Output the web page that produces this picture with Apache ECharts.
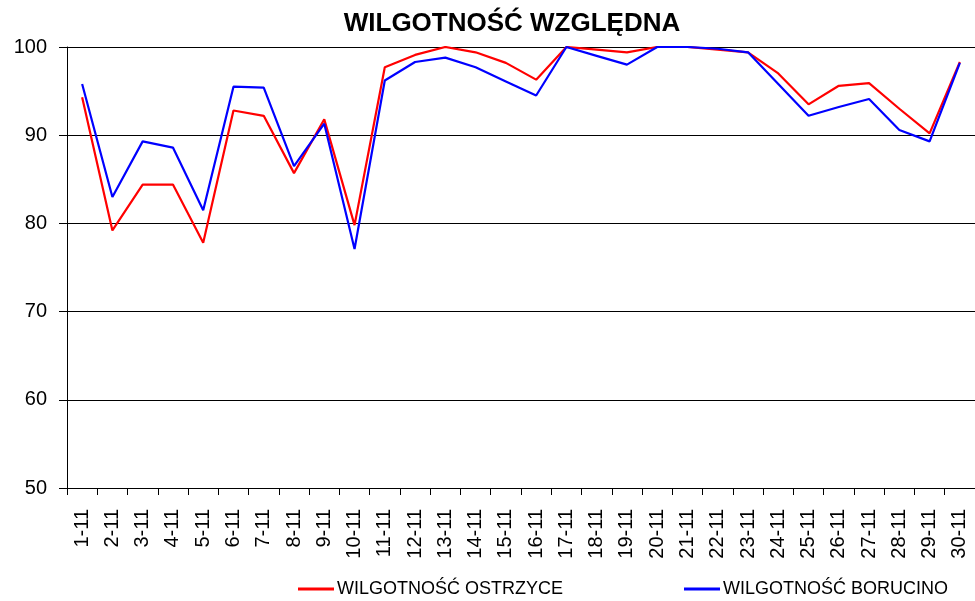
<!DOCTYPE html>
<html>
<head>
<meta charset="utf-8">
<script src="https://cdn.jsdelivr.net/npm/echarts@6/dist/echarts.min.js"></script>
<style>
  html, body { margin: 0; padding: 0; background: #fff; }
  #chart { width: 975px; height: 601px; }
</style>
</head>
<body>
<div id="chart"></div>
<script>
// dni listopada
const days = ['1-11','2-11','3-11','4-11','5-11','6-11','7-11','8-11','9-11','10-11',
  '11-11','12-11','13-11','14-11','15-11','16-11','17-11','18-11','19-11','20-11',
  '21-11','22-11','23-11','24-11','25-11','26-11','27-11','28-11','29-11','30-11']
const ostrzyce = [94.3, 79.2, 84.4, 84.4, 77.8, 92.8, 92.2, 85.7, 91.8, 79.8,
  97.7, 99.1, 100, 99.4, 98.2, 96.3, 100, 99.7, 99.4, 100,
  100, 99.7, 99.4, 97.0, 93.5, 95.6, 95.9, 93.0, 90.2, 98.3]
const borucino = [95.8, 83.0, 89.3, 88.6, 81.5, 95.5, 95.4, 86.5, 91.3, 77.1,
  96.2, 98.3, 98.8, 97.7, 96.1, 94.5, 100, 99.0, 98.0, 100,
  100, 99.8, 99.4, 95.8, 92.2, 93.2, 94.1, 90.6, 89.3, 98.2]
const yTicks = [50, 60, 70, 80, 90, 100]

const font = 'Arial, "Liberation Sans", sans-serif'
const chart = echarts.init(document.getElementById('chart'))
chart.setOption({
  animation: false,
  title: {
    text: 'WILGOTNOŚĆ WZGLĘDNA',
    left: 507,
    textAlign: 'center',
    top: 6,
    textStyle: { fontFamily: font, fontSize: 26, fontWeight: 'bold', color: '#000' }
  },
  legend: {
    left: 293,
    top: 575,
    icon: 'rect',
    itemWidth: 36,
    itemHeight: 3,
    itemGap: 121,
    textStyle: { fontFamily: font, fontSize: 18, color: '#000', padding: [0, 0, 0, -2] },
    data: ['WILGOTNOŚĆ OSTRZYCE', 'WILGOTNOŚĆ BORUCINO']
  },
  grid: { left: 67, right: 0, top: 47, bottom: 113 },
  xAxis: {
    type: 'category',
    data: days,
    boundaryGap: true,
    axisLine: { lineStyle: { color: '#000', width: 1 } },
    axisTick: { show: true, alignWithLabel: false, length: 7, lineStyle: { color: '#000' } },
    axisLabel: { rotate: 90, interval: 0, fontFamily: font, fontSize: 20, color: '#000', margin: 21 }
  },
  yAxis: {
    type: 'value',
    min: yTicks[0],
    max: yTicks[yTicks.length - 1],
    interval: 10,
    axisLine: { show: true, lineStyle: { color: '#000', width: 1 } },
    axisTick: { show: true, length: 8, lineStyle: { color: '#000' } },
    axisLabel: { fontFamily: font, fontSize: 20, color: '#000', margin: 20 },
    splitLine: { show: true, lineStyle: { color: '#000', width: 1 } }
  },
  series: [
    {
      name: 'WILGOTNOŚĆ OSTRZYCE',
      type: 'line',
      data: ostrzyce,
      symbol: 'none',
      color: '#ff0000',
      lineStyle: { color: '#ff0000', width: 2.2 }
    },
    {
      name: 'WILGOTNOŚĆ BORUCINO',
      type: 'line',
      data: borucino,
      symbol: 'none',
      color: '#0000ff',
      lineStyle: { color: '#0000ff', width: 2.2 }
    }
  ]
})
</script>
</body>
</html>
